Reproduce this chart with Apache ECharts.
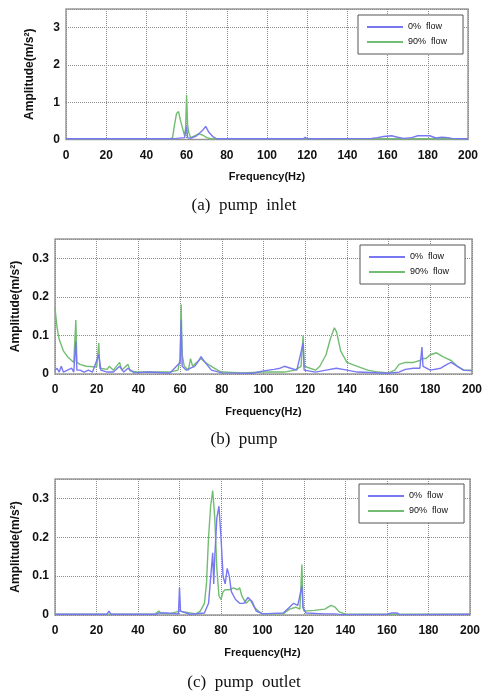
<!DOCTYPE html>
<html>
<head>
<meta charset="utf-8">
<script src="https://cdn.jsdelivr.net/npm/echarts@6/dist/echarts.min.js"></script>
<style>
  html, body { margin: 0; padding: 0; background: #fff; }
  #chart { width: 488px; height: 700px; }
</style>
</head>
<body>
<div id="chart"></div>
<script>
// 图例名称
const seriesNames = ['0%  flow', '90%  flow'];
const captions = ['(a)  pump  inlet', '(b)  pump', '(c)  pump  outlet'];
const yMax = [3.5, 0.35, 0.35];
const yStep = [1, 0.1, 0.1];

// (a) pump inlet  [频率Hz, 幅值]
const inletFlow0 = [
  [0, 0.02], [50, 0.02], [55, 0.03], [59, 0.05], [60, 0.35], [60.5, 0.05], [62, 0.03],
  [65, 0.1], [68, 0.25], [69.5, 0.35], [71, 0.2], [73, 0.08], [75, 0.02],
  [118, 0.02], [119, 0.06], [120, 0.02], [152, 0.03], [155, 0.05], [158, 0.08],
  [162, 0.1], [165, 0.06], [168, 0.03], [172, 0.05], [175, 0.1], [178, 0.1],
  [181, 0.1], [184, 0.04], [187, 0.06], [190, 0.05], [192, 0.03], [200, 0.02]
];
const inletFlow90 = [
  [0, 0.02], [52, 0.02], [53, 0.05], [54, 0.4], [55, 0.7], [56, 0.75], [57, 0.5],
  [58, 0.3], [59, 0.1], [59.5, 0.3], [60, 1.2], [60.5, 0.4], [61, 0.2], [62, 0.05],
  [64, 0.1], [66, 0.15], [68, 0.12], [70, 0.05], [72, 0.02], [200, 0.02]
];

// (b) pump
const pumpFlow0 = [
  [0, 0.01], [1, 0.015], [2, 0.005], [3, 0.02], [4, 0.005], [6, 0.01], [8, 0.015],
  [9, 0.005], [10, 0.085], [10.5, 0.01], [12, 0.01], [14, 0.005], [16, 0.01],
  [18, 0.005], [21, 0.05], [22, 0.01], [25, 0.005], [28, 0.005], [31, 0.02],
  [33, 0.005], [35, 0.015], [38, 0.003], [45, 0.005], [55, 0.002], [60, 0.03],
  [60.5, 0.14], [61, 0.02], [63, 0.01], [65, 0.015], [67, 0.02], [69, 0.035],
  [70, 0.045], [72, 0.03], [75, 0.01], [80, 0.003], [95, 0.002], [100, 0.008],
  [105, 0.012], [108, 0.015], [110, 0.02], [113, 0.015], [116, 0.01], [119, 0.08],
  [119.5, 0.01], [125, 0.005], [130, 0.01], [135, 0.015], [140, 0.01], [145, 0.005],
  [160, 0.002], [165, 0.005], [168, 0.012], [172, 0.015], [175, 0.015], [176, 0.07],
  [176.5, 0.02], [180, 0.01], [185, 0.015], [188, 0.025], [190, 0.03], [193, 0.02],
  [196, 0.01], [200, 0.008]
];
const pumpFlow90 = [
  [0, 0.17], [1, 0.12], [2, 0.09], [4, 0.06], [6, 0.045], [8, 0.035], [9, 0.03],
  [10, 0.14], [10.5, 0.03], [12, 0.025], [15, 0.02], [20, 0.018], [21, 0.08],
  [21.5, 0.015], [25, 0.012], [26, 0.02], [28, 0.01], [31, 0.03], [32, 0.01],
  [35, 0.025], [36, 0.008], [40, 0.005], [55, 0.005], [59, 0.01], [60, 0.04],
  [60.5, 0.18], [61, 0.05], [62, 0.02], [64, 0.01], [65, 0.04], [66, 0.02],
  [67, 0.025], [70, 0.04], [72, 0.03], [75, 0.02], [78, 0.01], [80, 0.005],
  [90, 0.003], [100, 0.005], [110, 0.005], [115, 0.01], [118, 0.02], [119, 0.1],
  [119.5, 0.02], [125, 0.01], [127, 0.02], [130, 0.05], [132, 0.09], [134, 0.12],
  [135, 0.11], [137, 0.06], [140, 0.03], [145, 0.02], [150, 0.01], [155, 0.005],
  [160, 0.003], [163, 0.01], [165, 0.025], [168, 0.03], [172, 0.03], [175, 0.035],
  [176, 0.04], [178, 0.04], [180, 0.05], [183, 0.055], [186, 0.045], [188, 0.04],
  [190, 0.035], [193, 0.02], [196, 0.01], [200, 0.01]
];

// (c) pump outlet
const outletFlow0 = [
  [0, 0.002], [25, 0.002], [26, 0.01], [27, 0.002], [49, 0.002], [50, 0.005],
  [54, 0.005], [59.5, 0.003], [60, 0.07], [60.5, 0.01], [65, 0.002], [72, 0.005],
  [74, 0.03], [76, 0.16], [76.5, 0.08], [77, 0.15], [78, 0.25], [79, 0.28],
  [80, 0.2], [81, 0.1], [82, 0.08], [83, 0.12], [84, 0.1], [85, 0.06], [87, 0.04],
  [89, 0.03], [91, 0.03], [93, 0.045], [95, 0.035], [97, 0.01], [100, 0.003],
  [110, 0.005], [113, 0.02], [115, 0.03], [117, 0.025], [119, 0.075], [119.5, 0.02],
  [121, 0.005], [130, 0.003], [135, 0.003], [138, 0.001], [160, 0.002], [162, 0.005],
  [165, 0.005], [166, 0.001], [200, 0.002]
];
const outletFlow90 = [
  [0, 0.002], [48, 0.002], [50, 0.01], [51, 0.005], [55, 0.003], [60, 0.01],
  [60.5, 0.01], [68, 0.003], [70, 0.01], [72, 0.03], [73, 0.08], [74, 0.2],
  [75, 0.28], [76, 0.32], [77, 0.25], [78, 0.12], [79, 0.05], [80, 0.04], [81, 0.06],
  [82, 0.065], [84, 0.065], [86, 0.07], [88, 0.065], [89, 0.07], [90, 0.05],
  [92, 0.03], [94, 0.04], [96, 0.02], [98, 0.01], [100, 0.003], [110, 0.003],
  [113, 0.015], [116, 0.02], [118, 0.015], [119, 0.13], [119.5, 0.02], [120, 0.01],
  [125, 0.012], [130, 0.015], [133, 0.025], [135, 0.02], [137, 0.008], [140, 0.002],
  [200, 0.002]
];

const panelData = [
  [inletFlow0, inletFlow90],
  [pumpFlow0, pumpFlow90],
  [outletFlow0, outletFlow90]
];

const colors = ['#7878f2', '#72bd72'];
const grids = [
  { left: 66, top: 9, width: 402, height: 130.5 },
  { left: 55, top: 239, width: 417, height: 135 },
  { left: 55, top: 479, width: 415, height: 136 }
];
const legendTops = [15, 245, 484];
const legendLefts = [358, 360, 359];
const captionTops = [197, 431, 674];
const labelFont = 'Liberation Sans';

const myChart = echarts.init(document.getElementById('chart'));

const option = {
  animation: false,
  color: colors,
  grid: grids.map(g => Object.assign({
    show: true, borderColor: '#9a9a9a', borderWidth: 1.5, backgroundColor: '#fff'
  }, g)),
  xAxis: grids.map((g, i) => ({
    type: 'value', gridIndex: i, min: 0, max: 200, interval: 20,
    name: 'Frequency(Hz)', nameLocation: 'middle', nameGap: 32,
    nameTextStyle: { color: '#111', fontWeight: 'bold', fontSize: 11, fontFamily: labelFont },
    axisLine: { show: false }, axisTick: { show: false },
    axisLabel: { color: '#111', fontWeight: 'bold', fontSize: 12, margin: 10, fontFamily: labelFont },
    splitLine: { lineStyle: { type: 'dotted', color: '#8c8c8c', width: 1 } }
  })),
  yAxis: grids.map((g, i) => ({
    type: 'value', gridIndex: i, min: 0, max: yMax[i], interval: yStep[i],
    name: 'Amplitude(m/s²)', nameLocation: 'middle', nameGap: i === 0 ? 30 : 32,
    nameTextStyle: { color: '#111', fontWeight: 'bold', fontSize: 12, fontFamily: labelFont },
    axisLine: { show: false }, axisTick: { show: false },
    axisLabel: { color: '#111', fontWeight: 'bold', fontSize: 12, margin: 6, showMaxLabel: false, fontFamily: labelFont },
    splitLine: { lineStyle: { type: 'dotted', color: '#8c8c8c', width: 1 } }
  })),
  legend: grids.map((g, i) => ({
    orient: 'vertical', left: legendLefts[i], top: legendTops[i],
    data: seriesNames, icon: 'rect', itemWidth: 36, itemHeight: 2, itemGap: 4,
    padding: [6.5, 16, 6.5, 9], borderColor: '#555', borderWidth: 1,
    backgroundColor: '#fff',
    selectedMode: false,
    textStyle: { fontSize: 9, color: '#111', fontFamily: labelFont, lineHeight: 11 }
  })),
  series: [],
  graphic: captions.map((c, i) => ({
    type: 'text', left: 'center', top: captionTops[i],
    style: { text: c, fontSize: 17, fontFamily: 'Liberation Serif', fill: '#111' }
  }))
};

panelData.forEach((pair, i) => {
  pair.forEach((data, k) => {
    option.series.push({
      name: seriesNames[k], type: 'line', xAxisIndex: i, yAxisIndex: i,
      data: data, symbol: 'none', showSymbol: false,
      lineStyle: { color: colors[k], width: 1.4 },
      itemStyle: { color: colors[k] },
      z: k === 0 ? 3 : 2
    });
  });
});

myChart.setOption(option);
</script>
</body>
</html>
